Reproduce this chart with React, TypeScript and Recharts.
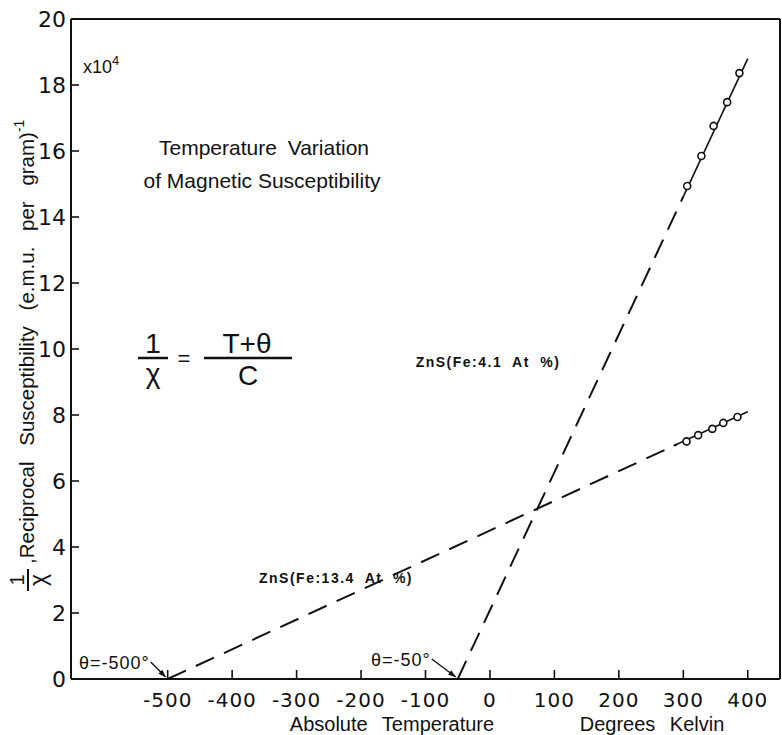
import {
  ComposedChart,
  Line,
  Scatter,
  XAxis,
  YAxis,
  ReferenceLine,
  ReferenceDot,
} from "recharts";

// temperature axis (degrees Kelvin) and 1/chi axis (x10^4)
const tempTicks = [-500, -400, -300, -200, -100, 0, 100, 200, 300, 400];
const suscTicks = [0, 2, 4, 6, 8, 10, 12, 14, 16, 18, 20];

// ZnS(Fe:13.4 At %) : theta = -500
const fe134Extrap = [
  { x: -500, y: 0 },
  { x: 290, y: 7.11 },
];
const fe134Fit = [
  { x: 285, y: 7.07 },
  { x: 400, y: 8.1 },
];
const fe134Points = [
  { x: 305, y: 7.2 },
  { x: 323, y: 7.39 },
  { x: 345, y: 7.58 },
  { x: 362, y: 7.76 },
  { x: 384, y: 7.94 },
];

// ZnS(Fe:4.1 At %) : theta = -50
const fe41Extrap = [
  { x: -50, y: 0 },
  { x: 300, y: 14.62 },
];
const fe41Fit = [
  { x: 300, y: 14.62 },
  { x: 400, y: 18.8 },
];
const fe41Points = [
  { x: 306, y: 14.94 },
  { x: 328, y: 15.85 },
  { x: 347, y: 16.76 },
  { x: 368, y: 17.48 },
  { x: 387, y: 18.36 },
];

const ink = "#111";
const textFont = "'Liberation Sans', Arial, sans-serif";
const tickFont = "'DejaVu Sans', sans-serif";

function TempTick({ x, y, payload }: any) {
  return (
    <g>
      <line x1={x} y1={y} x2={x} y2={y - 9} stroke={ink} strokeWidth={1.6} />
      <text
        x={x}
        y={y + 28}
        textAnchor="middle"
        fontFamily={tickFont}
        fontSize={20}
        letterSpacing={1}
        fill={ink}
      >
        {payload.value}
      </text>
    </g>
  );
}

function SuscTick({ x, y, payload }: any) {
  return (
    <g>
      <line x1={x} y1={y} x2={x + 8} y2={y} stroke={ink} strokeWidth={1.6} />
      <text
        x={x - 5}
        y={y + 8}
        textAnchor="end"
        fontFamily={tickFont}
        fontSize={22}
        fill={ink}
      >
        {payload.value}
      </text>
    </g>
  );
}

function OpenCircle(p: any) {
  return (
    <circle cx={p.cx} cy={p.cy} r={3.5} fill="#fff" stroke={ink} strokeWidth={1.6} />
  );
}

function thetaArrow(label: string, tx: number, ty: number) {
  return (p: any) => {
    const { cx, cy } = p;
    const sx = cx + tx;
    const sy = cy + ty;
    const ang = Math.atan2(cy - 2 - sy, cx - 2 - sx);
    const hx = cx - 2;
    const hy = cy - 2;
    const a1 = ang + Math.PI - 0.35;
    const a2 = ang + Math.PI + 0.35;
    return (
      <g>
        <text
          x={sx - 1}
          y={sy + 7}
          textAnchor="end"
          fontFamily={textFont}
          fontSize={18}
          letterSpacing={1}
          fill={ink}
        >
          {label}
        </text>
        <line x1={sx} y1={sy} x2={hx} y2={hy} stroke={ink} strokeWidth={1.4} />
        <polygon
          points={`${hx},${hy} ${hx + 8 * Math.cos(a1)},${hy + 8 * Math.sin(a1)} ${
            hx + 8 * Math.cos(a2)
          },${hy + 8 * Math.sin(a2)}`}
          fill={ink}
        />
      </g>
    );
  };
}

function Overlay() {
  return (
    <svg
      width={782}
      height={735}
      style={{ position: "absolute", left: 0, top: 0, pointerEvents: "none" }}
    >
      <g fontFamily={textFont} fill={ink}>
        <text x={83} y={73} fontSize={18}>
          x10
          <tspan dy={-8} fontSize={13}>
            4
          </tspan>
        </text>

        <text x={264} y={155} fontSize={21} textAnchor="middle" wordSpacing={5}>
          Temperature Variation
        </text>
        <text x={262} y={188} fontSize={21} textAnchor="middle">
          of Magnetic Susceptibility
        </text>

        {/* 1/chi = (T + theta) / C */}
        <text x={153} y={353} fontSize={28} textAnchor="middle">
          1
        </text>
        <line x1={138} y1={358} x2={168} y2={358} stroke={ink} strokeWidth={2.5} />
        <text x={153} y={383} fontSize={28} textAnchor="middle">
          χ
        </text>
        <text x={184} y={366} fontSize={22} textAnchor="middle">
          =
        </text>
        <text x={247} y={353} fontSize={28} textAnchor="middle">
          T+θ
        </text>
        <line x1={204} y1={358} x2={292} y2={358} stroke={ink} strokeWidth={2.5} />
        <text x={248} y={385} fontSize={28} textAnchor="middle">
          C
        </text>

        <text
          x={488}
          y={367}
          fontSize={14}
          textAnchor="middle"
          fontWeight={600}
          letterSpacing={1.5}
          wordSpacing={5}
        >
          ZnS(Fe:4.1 At %)
        </text>
        <text
          x={336}
          y={583}
          fontSize={14}
          textAnchor="middle"
          fontWeight={600}
          letterSpacing={1.5}
          wordSpacing={5}
        >
          ZnS(Fe:13.4 At %)
        </text>

        <text x={392} y={731} fontSize={20} textAnchor="middle" wordSpacing={9}>
          Absolute Temperature
        </text>
        <text x={652} y={731} fontSize={20} textAnchor="middle" wordSpacing={9}>
          Degrees Kelvin
        </text>

        <g transform="translate(27,357) rotate(-90)">
          <text x={-223} y={-3} fontSize={20} textAnchor="middle">
            1
          </text>
          <line x1={-234} y1={1} x2={-212} y2={1} stroke={ink} strokeWidth={2} />
          <text x={-223} y={19} fontSize={23} textAnchor="middle">
            χ
          </text>
          <text x={-207} y={7} fontSize={20.5} wordSpacing={10}>
            ,Reciprocal Susceptibility (e.m.u. per gram)
            <tspan dy={-10} fontSize={14}>
              -1
            </tspan>
          </text>
        </g>
      </g>
    </svg>
  );
}

export default function App() {
  return (
    <div style={{ position: "absolute", left: 0, top: 0, width: 782, height: 735, background: "#fff" }}>
      <ComposedChart
        width={782}
        height={735}
        margin={{ top: 19, right: 2, bottom: 0, left: 0 }}
      >
        <XAxis
          dataKey="x"
          type="number"
          domain={[-650, 450]}
          ticks={tempTicks}
          allowDataOverflow
          height={56}
          axisLine={{ stroke: ink, strokeWidth: 2 }}
          tickLine={false}
          tickSize={0}
          tickMargin={0}
          tick={<TempTick />}
          interval={0}
        />
        <YAxis
          dataKey="y"
          type="number"
          domain={[0, 20]}
          ticks={suscTicks}
          allowDataOverflow
          width={71}
          axisLine={{ stroke: ink, strokeWidth: 2 }}
          tickLine={false}
          tickSize={0}
          tickMargin={0}
          tick={<SuscTick />}
          interval={0}
        />
        <ReferenceLine y={20} stroke={ink} strokeWidth={2} />
        <ReferenceLine x={450} stroke={ink} strokeWidth={2} />

        <Line
          data={fe134Extrap}
          dataKey="y"
          stroke={ink}
          strokeWidth={2}
          strokeDasharray="20 11"
          dot={false}
          isAnimationActive={false}
        />
        <Line
          data={fe134Fit}
          dataKey="y"
          stroke={ink}
          strokeWidth={1.6}
          dot={false}
          isAnimationActive={false}
        />
        <Scatter
          data={fe134Points}
          dataKey="y"
          shape={OpenCircle}
          isAnimationActive={false}
        />

        <Line
          data={fe41Extrap}
          dataKey="y"
          stroke={ink}
          strokeWidth={2}
          strokeDasharray="20 11"
          dot={false}
          isAnimationActive={false}
        />
        <Line
          data={fe41Fit}
          dataKey="y"
          stroke={ink}
          strokeWidth={1.6}
          dot={false}
          isAnimationActive={false}
        />
        <Scatter
          data={fe41Points}
          dataKey="y"
          shape={OpenCircle}
          isAnimationActive={false}
        />

        <ReferenceDot
          x={-500}
          y={0}
          r={0}
          ifOverflow="visible"
          shape={thetaArrow("θ=-500°", -17, -17)}
        />
        <ReferenceDot
          x={-50}
          y={0}
          r={0}
          ifOverflow="visible"
          shape={thetaArrow("θ=-50°", -26, -20)}
        />
      </ComposedChart>
      <Overlay />
    </div>
  );
}
